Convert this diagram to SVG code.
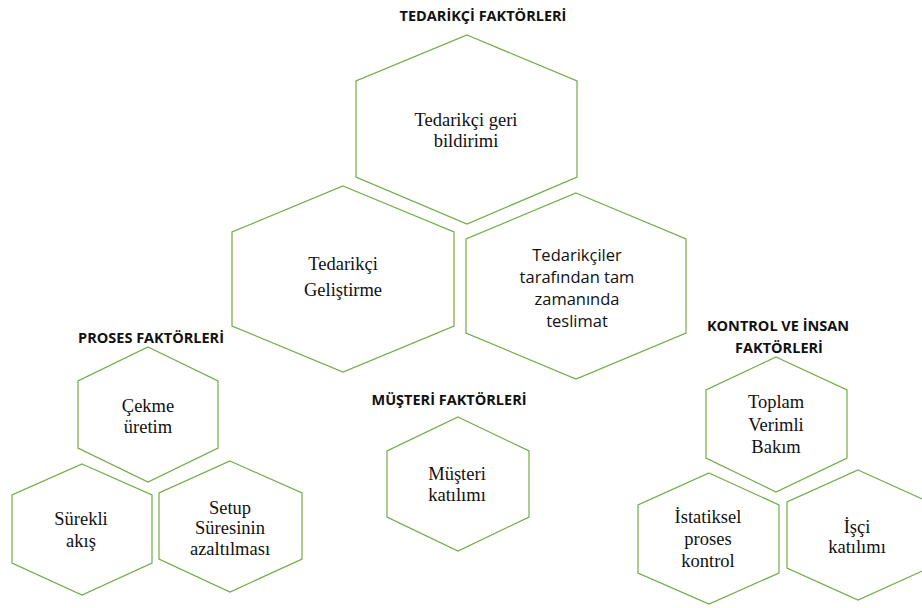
<svg xmlns="http://www.w3.org/2000/svg" width="922" height="608" viewBox="0 0 922 608">
  <style>
    .hex { fill: #ffffff; stroke: #70ad47; stroke-width: 1.2; }
    .head { font-family: "Open Sans", "Liberation Sans", sans-serif; font-weight: bold; font-size: 14.5px; fill: #111111; text-anchor: middle; }
    .serif { font-family: "Liberation Serif", "Times New Roman", serif; font-size: 18.5px; fill: #111111; text-anchor: middle; }
    .sans { font-family: "Open Sans", "Liberation Sans", sans-serif; font-size: 16.5px; fill: #111111; text-anchor: middle; }
  </style>
  <rect width="922" height="608" fill="#ffffff"/>

  <!-- group headings -->
  <g id="headings">
    <text class="head" x="483" y="21">TEDARİKÇİ FAKTÖRLERİ</text>
    <text class="head" x="151" y="343">PROSES FAKTÖRLERİ</text>
    <text class="head" x="449" y="405">MÜŞTERİ FAKTÖRLERİ</text>
    <text class="head" x="778" y="331">KONTROL VE İNSAN</text>
    <text class="head" x="779" y="353">FAKTÖRLERİ</text>
  </g>

  <!-- supplier factors -->
  <g id="tedarikci-geri-bildirimi">
    <polygon class="hex" points="467,35 577,81 577,177 467,224 356,177 356,81"/>
    <text class="serif" x="466" y="126">Tedarikçi geri</text>
    <text class="serif" x="466" y="147">bildirimi</text>
  </g>
  <g id="tedarikci-gelistirme">
    <polygon class="hex" points="343,186 454,232 454,326 343,372 232,326 232,232"/>
    <text class="serif" x="343" y="270">Tedarikçi</text>
    <text class="serif" x="343" y="296">Geliştirme</text>
  </g>
  <g id="tam-zamaninda-teslimat">
    <polygon class="hex" points="576,193 686,239 686,333 576,379 466,333 466,239"/>
    <text class="sans" x="577" y="261">Tedarikçiler</text>
    <text class="sans" x="577" y="283">tarafından tam</text>
    <text class="sans" x="577" y="305">zamanında</text>
    <text class="sans" x="577" y="327">teslimat</text>
  </g>

  <!-- process factors -->
  <g id="cekme-uretim">
    <polygon class="hex" points="148,347 218,381 218,448 148,482 78,448 78,381"/>
    <text class="serif" x="148" y="412">Çekme</text>
    <text class="serif" x="148" y="433">üretim</text>
  </g>
  <g id="surekli-akis">
    <polygon class="hex" points="82,464 152,495 152,563 82,595 12,563 12,495"/>
    <text class="serif" x="81" y="525">Sürekli</text>
    <text class="serif" x="81" y="547">akış</text>
  </g>
  <g id="setup-suresi">
    <polygon class="hex" points="230,461 302,493 302,559 230,592 159,559 159,493"/>
    <text class="serif" x="230" y="514">Setup</text>
    <text class="serif" x="230" y="534">Süresinin</text>
    <text class="serif" x="230" y="555">azaltılması</text>
  </g>

  <!-- customer factors -->
  <g id="musteri-katilimi">
    <polygon class="hex" points="458,417 529,451 529,517 458,551 387,517 387,451"/>
    <text class="serif" x="457" y="480">Müşteri</text>
    <text class="serif" x="457" y="501">katılımı</text>
  </g>

  <!-- control and human factors -->
  <g id="toplam-verimli-bakim">
    <polygon class="hex" points="776,357 847,390 847,458 776,492 706,458 706,390"/>
    <text class="serif" x="776" y="408">Toplam</text>
    <text class="serif" x="776" y="431">Verimli</text>
    <text class="serif" x="776" y="453">Bakım</text>
  </g>
  <g id="istatiksel-proses-kontrol">
    <polygon class="hex" points="709,473 779,505 779,573 709,604 638,573 638,505"/>
    <text class="serif" x="708" y="523">İstatiksel</text>
    <text class="serif" x="708" y="545">proses</text>
    <text class="serif" x="708" y="567">kontrol</text>
  </g>
  <g id="isci-katilimi">
    <polygon class="hex" points="858,470 929,502 929,568 858,600 787,568 787,502"/>
    <text class="serif" x="857" y="533">İşçi</text>
    <text class="serif" x="857" y="553">katılımı</text>
  </g>

  <g id="connectors"/>
</svg>
